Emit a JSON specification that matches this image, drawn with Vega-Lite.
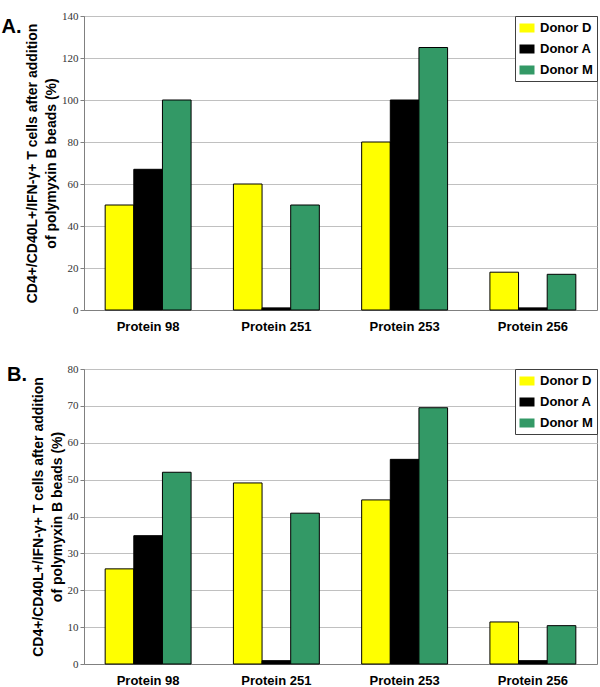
{
  "$schema": "https://vega.github.io/schema/vega-lite/v6.json",
  "padding": {"left": 1, "top": 9, "right": 3, "bottom": 0},
  "background": "white",
  "datasets": {
    "a": [
      {"protein": "Protein 98", "donor": "Donor D", "value": 50},
      {"protein": "Protein 98", "donor": "Donor A", "value": 67},
      {"protein": "Protein 98", "donor": "Donor M", "value": 100},
      {"protein": "Protein 251", "donor": "Donor D", "value": 60},
      {"protein": "Protein 251", "donor": "Donor A", "value": 1},
      {"protein": "Protein 251", "donor": "Donor M", "value": 50},
      {"protein": "Protein 253", "donor": "Donor D", "value": 80},
      {"protein": "Protein 253", "donor": "Donor A", "value": 100},
      {"protein": "Protein 253", "donor": "Donor M", "value": 125},
      {"protein": "Protein 256", "donor": "Donor D", "value": 18},
      {"protein": "Protein 256", "donor": "Donor A", "value": 1},
      {"protein": "Protein 256", "donor": "Donor M", "value": 17}
    ],
    "b": [
      {"protein": "Protein 98", "donor": "Donor D", "value": 25.8},
      {"protein": "Protein 98", "donor": "Donor A", "value": 34.8},
      {"protein": "Protein 98", "donor": "Donor M", "value": 52},
      {"protein": "Protein 251", "donor": "Donor D", "value": 49.1},
      {"protein": "Protein 251", "donor": "Donor A", "value": 0.9},
      {"protein": "Protein 251", "donor": "Donor M", "value": 40.9},
      {"protein": "Protein 253", "donor": "Donor D", "value": 44.5},
      {"protein": "Protein 253", "donor": "Donor A", "value": 55.5},
      {"protein": "Protein 253", "donor": "Donor M", "value": 69.5},
      {"protein": "Protein 256", "donor": "Donor D", "value": 11.4},
      {"protein": "Protein 256", "donor": "Donor A", "value": 0.9},
      {"protein": "Protein 256", "donor": "Donor M", "value": 10.4}
    ]
  },
  "vconcat": [
    {
      "data": {"name": "a"},
      "width": 513,
      "height": 294,
      "title": {"text": "A.", "anchor": "start", "frame": "bounds", "fontSize": 20, "font": "Liberation Sans", "fontWeight": "bold", "dx": -24, "dy": 27, "offset": 0},
      "mark": {"type": "bar", "stroke": "black", "strokeWidth": 1},
      "encoding": {
        "x": {"field": "protein", "type": "nominal", "sort": ["Protein 98", "Protein 251", "Protein 253", "Protein 256"], "scale": {"paddingInner": 0.33, "paddingOuter": 0.165}, "axis": {"title": null}},
        "xOffset": {"field": "donor", "sort": ["Donor D", "Donor A", "Donor M"], "scale": {"paddingInner": 0, "paddingOuter": 0}},
        "y": {"field": "value", "type": "quantitative", "scale": {"domain": [0, 140]}, "axis": {"values": [0, 20, 40, 60, 80, 100, 120, 140], "title": ["CD4+/CD40L+/IFN-γ+ T cells after addition", "of polymyxin B beads (%)"]}},
        "fill": {"field": "donor", "type": "nominal", "sort": ["Donor D", "Donor A", "Donor M"], "scale": {"domain": ["Donor D", "Donor A", "Donor M"], "range": ["#ffff00", "#000000", "#339966"]}, "legend": {"title": null, "encode": {"symbols": {"update": {"fill": {"signal": "datum.value === 'Donor D' ? '#ffff80' : datum.value === 'Donor M' ? '#009900' : '#000000'"}}}}}}
      }
    },
    {
      "data": {"name": "b"},
      "width": 513,
      "height": 295,
      "title": {"text": "B.", "anchor": "start", "frame": "bounds", "fontSize": 20, "font": "Liberation Sans", "fontWeight": "bold", "dx": -24, "dy": 22, "offset": 0},
      "mark": {"type": "bar", "stroke": "black", "strokeWidth": 1},
      "encoding": {
        "x": {"field": "protein", "type": "nominal", "sort": ["Protein 98", "Protein 251", "Protein 253", "Protein 256"], "scale": {"paddingInner": 0.33, "paddingOuter": 0.165}, "axis": {"title": null}},
        "xOffset": {"field": "donor", "sort": ["Donor D", "Donor A", "Donor M"], "scale": {"paddingInner": 0, "paddingOuter": 0}},
        "y": {"field": "value", "type": "quantitative", "scale": {"domain": [0, 80]}, "axis": {"values": [0, 10, 20, 30, 40, 50, 60, 70, 80], "title": ["CD4+/CD40L+/IFN-γ+ T cells after addition", "of polymyxin B beads (%)"]}},
        "fill": {"field": "donor", "type": "nominal", "sort": ["Donor D", "Donor A", "Donor M"], "scale": {"domain": ["Donor D", "Donor A", "Donor M"], "range": ["#ffff00", "#000000", "#339966"]}, "legend": {"title": null, "encode": {"symbols": {"update": {"fill": {"signal": "datum.value === 'Donor D' ? '#ffff80' : datum.value === 'Donor M' ? '#009900' : '#000000'"}}}}}}
      }
    }
  ],
  "resolve": {"scale": {"fill": "independent", "y": "independent"}, "legend": {"fill": "independent"}},
  "spacing": 28,
  "config": {
    "view": {"stroke": "#808080", "strokeWidth": 1},
    "title": {"color": "black"},
    "axisX": {"ticks": false, "domainColor": "#808080", "labelFont": "Liberation Sans", "labelFontWeight": "bold", "labelFontSize": 13, "labelColor": "black", "labelPadding": 10, "labelAngle": 0, "grid": false},
    "axisY": {"domainColor": "#808080", "tickColor": "#808080", "tickSize": 4, "labelFont": "Liberation Serif", "labelFontSize": 11, "labelColor": "#333333", "labelPadding": 2, "gridColor": "#c0c0c0", "gridWidth": 1, "titleFont": "Liberation Sans", "titleFontWeight": "bold", "titleFontSize": 14, "titleColor": "black", "titlePadding": 3, "titleLineHeight": 19, "titleLimit": 400},
    "legend": {"orient": "top-right", "offset": 0, "strokeColor": "#404040", "fillColor": "white", "padding": 4, "labelFont": "Liberation Sans", "labelFontWeight": "bold", "labelFontSize": 13, "labelColor": "black", "symbolType": "M-1,-0.6H1V0.6H-1Z", "symbolSize": 225, "symbolStrokeColor": "#555555", "symbolStrokeWidth": 0.8, "rowPadding": 6, "labelOffset": 5}
  }
}
